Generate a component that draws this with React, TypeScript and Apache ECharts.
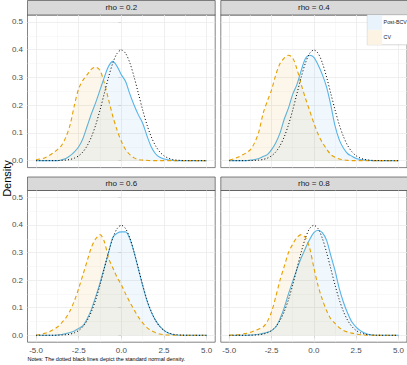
import React, { useEffect, useRef } from "react";
import * as echarts from "echarts";

// ---------- data ----------
const xs = [-5, -4.75, -4.5, -4.25, -4, -3.75, -3.5, -3.25, -3, -2.75, -2.5, -2.25, -2, -1.75, -1.5, -1.25, -1, -0.75, -0.5, -0.25, 0, 0.25, 0.5, 0.75, 1, 1.25, 1.5, 1.75, 2, 2.25, 2.5, 2.75, 3, 3.25, 3.5, 3.75, 4, 4.25, 4.5, 4.75, 5];

const panelTitles = ["rho = 0.2", "rho = 0.4", "rho = 0.6", "rho = 0.8"];
const seriesNames = ["Post-BCV", "CV"];

const normalDensity = [0, 0, 0, 0.0001, 0.0001, 0.0004, 0.0009, 0.002, 0.0044, 0.0091, 0.0175, 0.0317, 0.054, 0.0863, 0.1295, 0.1826, 0.242, 0.3011, 0.3521, 0.3867, 0.3989, 0.3867, 0.3521, 0.3011, 0.242, 0.1826, 0.1295, 0.0863, 0.054, 0.0317, 0.0175, 0.0091, 0.0044, 0.002, 0.0009, 0.0004, 0.0001, 0.0001, 0, 0, 0];

const postBCV02 = [0, 0, 0, 0, 0, 0, 0.003, 0.008, 0.018, 0.032, 0.05, 0.08, 0.125, 0.17, 0.21, 0.255, 0.3, 0.34, 0.358, 0.34, 0.31, 0.285, 0.24, 0.2, 0.165, 0.135, 0.09, 0.05, 0.025, 0.012, 0.006, 0.003, 0.001, 0, 0, 0, 0, 0, 0, 0, 0];
const cv02 = [0.003, 0.006, 0.01, 0.018, 0.028, 0.04, 0.055, 0.085, 0.13, 0.2, 0.26, 0.29, 0.31, 0.33, 0.337, 0.325, 0.28, 0.22, 0.16, 0.11, 0.07, 0.04, 0.022, 0.01, 0.004, 0.002, 0.001, 0, 0, 0, 0, 0, 0, 0, 0, 0, 0, 0, 0, 0, 0];

const postBCV04 = [0, 0, 0, 0, 0, 0.002, 0.004, 0.008, 0.015, 0.022, 0.04, 0.065, 0.1, 0.15, 0.19, 0.24, 0.275, 0.325, 0.368, 0.38, 0.372, 0.345, 0.31, 0.265, 0.2, 0.125, 0.075, 0.045, 0.025, 0.016, 0.008, 0.004, 0.002, 0.001, 0, 0, 0, 0, 0, 0, 0];
const cv04 = [0.002, 0.006, 0.012, 0.02, 0.028, 0.04, 0.065, 0.105, 0.17, 0.215, 0.255, 0.31, 0.35, 0.37, 0.38, 0.37, 0.33, 0.275, 0.225, 0.18, 0.135, 0.095, 0.065, 0.042, 0.022, 0.012, 0.006, 0.003, 0.001, 0, 0, 0, 0, 0, 0, 0, 0, 0, 0, 0, 0];

const postBCV06 = [0, 0, 0, 0, 0, 0.001, 0.003, 0.006, 0.01, 0.016, 0.025, 0.035, 0.06, 0.095, 0.14, 0.19, 0.245, 0.3, 0.355, 0.37, 0.375, 0.375, 0.35, 0.3, 0.24, 0.18, 0.125, 0.085, 0.055, 0.033, 0.018, 0.008, 0.003, 0.001, 0, 0, 0, 0, 0, 0, 0];
const cv06 = [0, 0.003, 0.007, 0.012, 0.02, 0.03, 0.045, 0.063, 0.09, 0.125, 0.17, 0.22, 0.27, 0.32, 0.35, 0.365, 0.34, 0.28, 0.245, 0.21, 0.183, 0.15, 0.12, 0.092, 0.066, 0.045, 0.028, 0.017, 0.01, 0.005, 0.002, 0.001, 0, 0, 0, 0, 0, 0, 0, 0, 0];

const postBCV08 = [0, 0, 0, 0, 0, 0.001, 0.002, 0.004, 0.007, 0.011, 0.017, 0.03, 0.06, 0.1, 0.15, 0.195, 0.24, 0.28, 0.315, 0.347, 0.372, 0.381, 0.372, 0.345, 0.29, 0.235, 0.17, 0.12, 0.08, 0.048, 0.03, 0.017, 0.008, 0.003, 0.001, 0, 0, 0, 0, 0, 0];
const cv08 = [0, 0.001, 0.002, 0.004, 0.007, 0.011, 0.017, 0.023, 0.03, 0.05, 0.085, 0.14, 0.2, 0.25, 0.3, 0.33, 0.355, 0.365, 0.355, 0.317, 0.245, 0.18, 0.13, 0.09, 0.06, 0.043, 0.028, 0.018, 0.012, 0.008, 0.005, 0.002, 0.001, 0, 0, 0, 0, 0, 0, 0, 0];

const postBCVByPanel = [postBCV02, postBCV04, postBCV06, postBCV08];
const cvByPanel = [cv02, cv04, cv06, cv08];

const xTicks = [-5, -2.5, 0, 2.5, 5];
const yTicks = [0, 0.1, 0.2, 0.3, 0.4, 0.5];
const xMinor = [-3.75, -1.25, 1.25, 3.75];
const yMinor = [0.05, 0.15, 0.25, 0.35, 0.45];

const yTitle = "Density";
const noteText = "Notes: The dotted black lines depict the standard normal density.";

// ---------- layout / style ----------
const FONT = "'Liberation Sans', Arial, Helvetica, sans-serif";
const GRIDS = [
  { left: 27.5, top: 15, width: 187.7, height: 152.6 },
  { left: 220.8, top: 15, width: 187, height: 152.6 },
  { left: 27.5, top: 190.5, width: 187.7, height: 151.7 },
  { left: 220.8, top: 190.5, width: 187, height: 151.7 },
];
const STRIP_H = [14.5, 14.5, 13.5, 13.5];
const BLUE = "#56B4E9";
const ORANGE = "#E69F00";
const KEY_FILLS = ["#E8F3FC", "#FCF3E3"];
const LEGEND = { x: 367.3, y: 14.8, keyW: 14.5, keyH: 15 };

export default function App() {
  const ref = useRef<HTMLDivElement>(null);

  useEffect(() => {
    if (!ref.current) return;
    const chart = echarts.init(ref.current, undefined, { renderer: "svg" });

    const grid: any[] = GRIDS.map((g) => ({
      ...g,
      show: true,
      backgroundColor: "#FFFFFF",
      borderColor: "#333333",
      borderWidth: 0.6,
      containLabel: false,
    }));

    const xAxis: any[] = GRIDS.map((_, i) => {
      const bottom = i >= 2;
      return {
        type: "value",
        gridIndex: i,
        min: -5.5,
        max: 5.5,
        axisLine: { show: false },
        splitLine: { show: false },
        axisTick: {
          show: bottom,
          customValues: xTicks,
          length: 3,
          lineStyle: { color: "#333333", width: 0.6 },
        },
        axisLabel: {
          show: bottom,
          customValues: xTicks,
          formatter: (v: number) => v.toFixed(1),
          fontSize: 8,
          color: "#4D4D4D",
          fontFamily: FONT,
          margin: 4,
        },
      };
    });

    const yAxis: any[] = GRIDS.map((_, i) => {
      const left = i % 2 === 0;
      return {
        type: "value",
        gridIndex: i,
        min: -0.025,
        max: 0.525,
        axisLine: { show: false },
        splitLine: { show: false },
        axisTick: {
          show: left,
          customValues: yTicks,
          length: 3,
          lineStyle: { color: "#333333", width: 0.6 },
        },
        axisLabel: {
          show: left,
          customValues: yTicks,
          formatter: (v: number) => v.toFixed(1),
          fontSize: 8,
          color: "#4D4D4D",
          fontFamily: FONT,
          margin: 4.5,
        },
      };
    });

    const series: any[] = [];
    GRIDS.forEach((_, i) => {
      // grid lines (major + minor), drawn beneath the data
      series.push({
        type: "line",
        name: "grid" + i,
        xAxisIndex: i,
        yAxisIndex: i,
        data: [],
        silent: true,
        z: 1,
        markLine: {
          silent: true,
          z: 1,
          symbol: ["none", "none"],
          label: { show: false },
          emphasis: { disabled: true },
          lineStyle: { type: "solid", color: "#EBEBEB", width: 0.8 },
          data: [
            ...xMinor.map((v) => ({ xAxis: v, lineStyle: { type: "solid", color: "#F3F3F3", width: 0.5 } })),
            ...yMinor.map((v) => ({ yAxis: v, lineStyle: { type: "solid", color: "#F3F3F3", width: 0.5 } })),
            ...xTicks.map((v) => ({ xAxis: v, lineStyle: { type: "solid", color: "#EBEBEB", width: 0.8 } })),
            ...yTicks.map((v) => ({ yAxis: v, lineStyle: { type: "solid", color: "#EBEBEB", width: 0.8 } })),
          ],
        },
      });
      series.push({
        type: "line",
        name: seriesNames[0],
        xAxisIndex: i,
        yAxisIndex: i,
        data: xs.map((x, k) => [x, postBCVByPanel[i][k]]),
        showSymbol: false,
        symbol: "none",
        smooth: 0.3,
        silent: true,
        z: 2,
        itemStyle: { color: BLUE },
        lineStyle: { color: BLUE, width: 1.1 },
        areaStyle: { color: "rgba(86,180,233,0.13)" },
      });
      series.push({
        type: "line",
        name: seriesNames[1],
        xAxisIndex: i,
        yAxisIndex: i,
        data: xs.map((x, k) => [x, cvByPanel[i][k]]),
        showSymbol: false,
        symbol: "none",
        smooth: 0.3,
        silent: true,
        z: 3,
        itemStyle: { color: ORANGE },
        lineStyle: { color: ORANGE, width: 1.1, type: [4, 3] },
        areaStyle: { color: "rgba(230,159,0,0.11)" },
      });
      series.push({
        type: "line",
        name: "Standard normal",
        xAxisIndex: i,
        yAxisIndex: i,
        data: xs.map((x, k) => [x, normalDensity[k]]),
        showSymbol: false,
        symbol: "none",
        smooth: 0.3,
        silent: true,
        z: 4,
        itemStyle: { color: "#000000" },
        lineStyle: { color: "#000000", width: 1, type: [1, 2.2] },
      });
    });

    const graphic: any[] = [];
    GRIDS.forEach((g, i) => {
      const h = STRIP_H[i];
      graphic.push({
        type: "rect",
        shape: { x: g.left, y: g.top - h, width: g.width, height: h },
        style: { fill: "#D9D9D9", stroke: "#333333", lineWidth: 0.6 },
        silent: true,
      });
      graphic.push({
        type: "text",
        x: g.left + g.width / 2 - (i % 2 === 1 ? 0.4 : 0),
        y: g.top - h / 2,
        style: {
          text: panelTitles[i],
          fontSize: 8,
          fontFamily: FONT,
          fill: "#1A1A1A",
          align: "center",
          verticalAlign: "middle",
        },
        silent: true,
      });
    });

    // shared y-axis title
    graphic.push({
      type: "text",
      x: 7,
      y: 178.5,
      rotation: Math.PI / 2,
      style: {
        text: yTitle,
        fontSize: 11,
        fontFamily: FONT,
        fill: "#000000",
        align: "center",
        verticalAlign: "middle",
      },
      silent: true,
    });

    // legend (ggplot-style inside box)
    graphic.push({
      type: "rect",
      z: 50,
      shape: { x: LEGEND.x, y: LEGEND.y, width: 45, height: LEGEND.keyH * 2 },
      style: { fill: "#FFFFFF", stroke: "#BDBDBD", lineWidth: 0.6 },
      silent: true,
    });
    seriesNames.forEach((name, k) => {
      graphic.push({
        type: "rect",
        z: 51,
        shape: { x: LEGEND.x + 0.3, y: LEGEND.y + k * LEGEND.keyH + 0.3, width: LEGEND.keyW, height: LEGEND.keyH - 0.3 },
        style: { fill: KEY_FILLS[k] },
        silent: true,
      });
      graphic.push({
        type: "text",
        z: 52,
        x: LEGEND.x + LEGEND.keyW + 1.8,
        y: LEGEND.y + k * LEGEND.keyH + LEGEND.keyH / 2,
        style: {
          text: name,
          fontSize: 5.3,
          fontFamily: FONT,
          fill: "#1A1A1A",
          align: "left",
          verticalAlign: "middle",
        },
        silent: true,
      });
    });

    graphic.push({
      type: "text",
      x: 27.5,
      y: 358.7,
      style: {
        text: noteText,
        fontSize: 5.5,
        fontFamily: FONT,
        fill: "#000000",
        align: "left",
        verticalAlign: "middle",
      },
      silent: true,
    });

    chart.setOption({
      animation: false,
      grid,
      xAxis,
      yAxis,
      series,
      graphic,
    });

    return () => chart.dispose();
  }, []);

  return (
    <div
      ref={ref}
      style={{ position: "absolute", left: 0, top: 0, width: 407, height: 365 }}
    />
  );
}
